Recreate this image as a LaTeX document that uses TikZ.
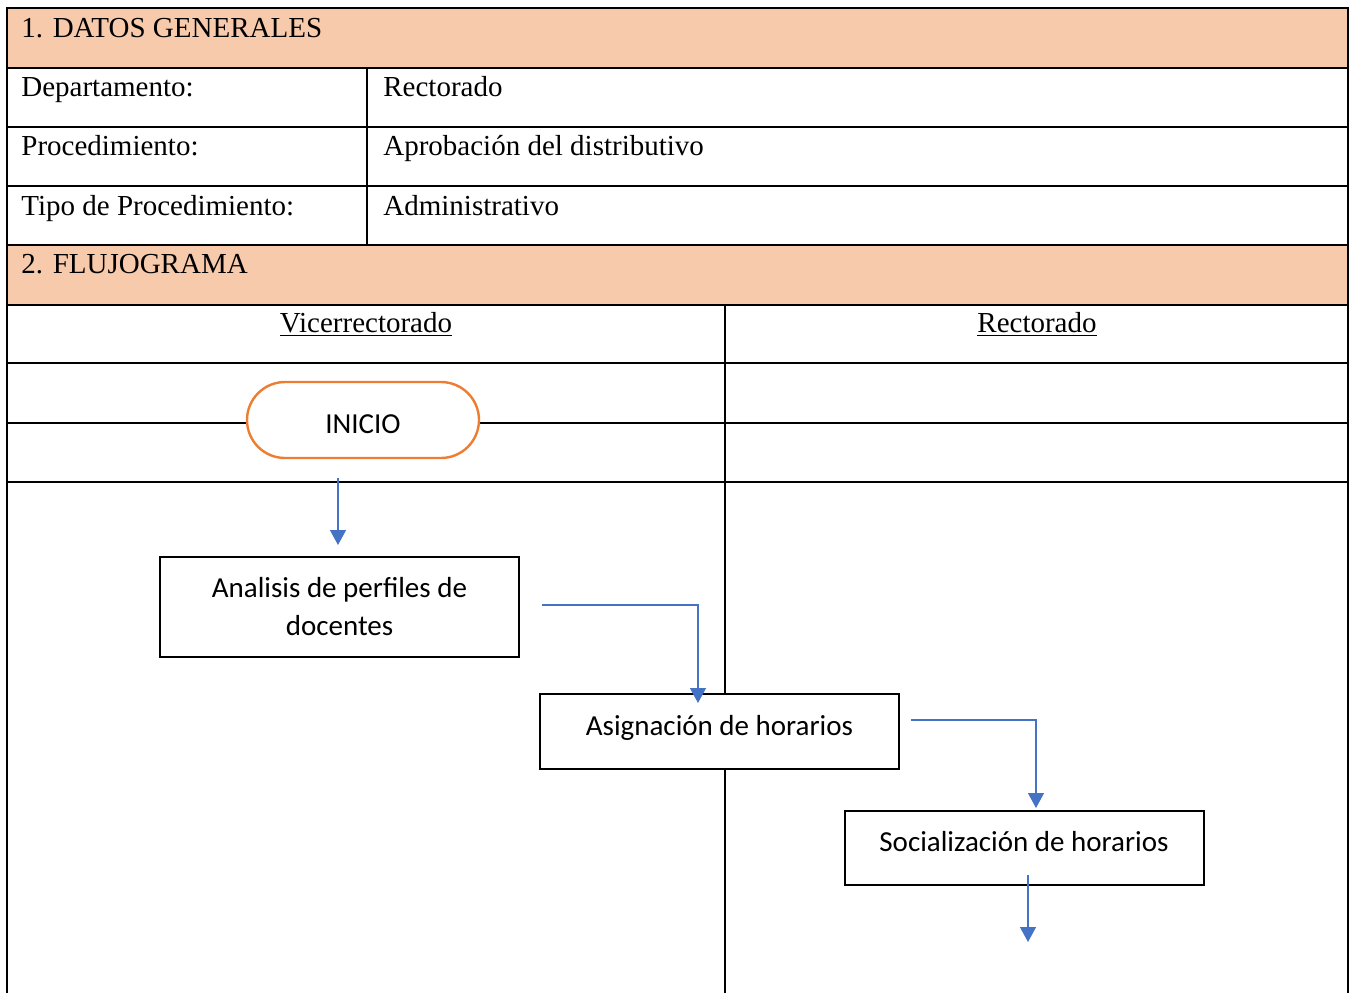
\documentclass[tikz,border=0pt]{standalone}
\usepackage{fontspec}
\setmainfont{Liberation Serif}
\newfontfamily\boxfont{Carlito}
\usetikzlibrary{arrows.meta,shapes.misc}
\definecolor{headfill}{HTML}{F7CAAC}
\definecolor{flowblue}{HTML}{4472C4}
\definecolor{startorange}{HTML}{ED7D31}
\begin{document}
\begin{tikzpicture}[x=0.5pt,y=-0.5pt,
  rule/.style={line width=1pt,black},
  cell/.style={anchor=base west,inner sep=0pt,font=\fontsize{14.5}{17}\selectfont},
  lane/.style={anchor=base,inner sep=0pt,font=\fontsize{14.5}{17}\selectfont},
  stepbox/.style={draw=black,line width=1pt,fill=white,minimum width=179.5pt,
    align=center,inner sep=0pt,font=\boxfont\fontsize{14.5}{19}\selectfont},
  startbox/.style={rounded rectangle,draw=startorange,line width=1.2pt,fill=white,
    minimum width=116pt,minimum height=38pt,inner sep=0pt,
    font=\boxfont\fontsize{14.5}{17}\selectfont},
  flow/.style={draw=flowblue,line width=0.65pt,-{Triangle[length=7.5pt,width=8pt]}}]
\useasboundingbox (0,0) rectangle (1351,993);

% shaded section headers
\fill[headfill] (7,8) rectangle (1348,68);
\fill[headfill] (7,245) rectangle (1348,305);

% table rules
\draw[rule] (7,993) -- (7,8) -- (1348,8) -- (1348,993);
\foreach \y in {68,127,186,245,305,363,423,482}
  \draw[rule] (7,\y) -- (1348,\y);
\draw[rule] (367,68) -- (367,245);
\draw[rule] (725,305) -- (725,993);

% general data
\node[cell] (h1) at (21,37) {1. DATOS GENERALES};
\node[cell] (k1) at (21,96) {Departamento:};
\node[cell] (v1) at (383,96) {Rectorado};
\node[cell] (k2) at (21,155) {Procedimiento:};
\node[cell] (v2) at (383,155) {Aprobación del distributivo};
\node[cell] (k3) at (21,215) {Tipo de Procedimiento:};
\node[cell] (v3) at (383,215) {Administrativo};
\node[cell] (h2) at (21,273) {2. FLUJOGRAMA};

% swimlane titles
\node[lane] (l1) at (366,332) {\underline{Vicerrectorado}};
\node[lane] (l2) at (1037,332) {\underline{Rectorado}};

% flow steps (text height/depth fix the baseline inside each box)
\node[startbox,text height=13pt,text depth=0pt] (inicio) at (363,420) {INICIO};
\node[stepbox,minimum height=50pt] (perfiles) at (339.5,607)
  {Analisis de perfiles de\\docentes};
\node[stepbox,minimum height=37.5pt,text height=7pt,text depth=3.5pt] (asig)
  at (719.5,731.5) {Asignación de horarios};
\node[stepbox,minimum height=37pt,text height=6.5pt,text depth=3.5pt] (social)
  at (1024,848) {Socialización de horarios};

% connector ends
\coordinate (s1) at (338,478);
\coordinate (e1) at (338,545);
\coordinate (s2) at (542,605);
\coordinate (e2) at (698,703);
\coordinate (s3) at (911,720);
\coordinate (e3) at (1036,808);
\coordinate (s4) at (1028,875);
\coordinate (e4) at (1028,942);

\draw[flow] (s1) -- (e1);
\draw[flow] (s2) -| (e2);
\draw[flow] (s3) -| (e3);
\draw[flow] (s4) -- (e4);
\end{tikzpicture}
\end{document}
